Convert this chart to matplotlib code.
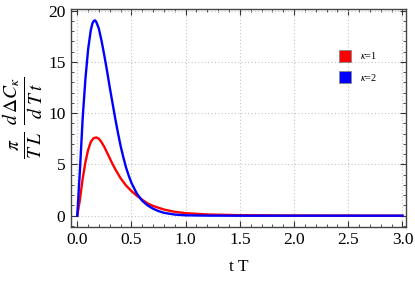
import matplotlib
matplotlib.use("Agg")
import matplotlib.pyplot as plt
from matplotlib.lines import Line2D
from matplotlib.ticker import MultipleLocator

plt.rcParams['font.family'] = ['Liberation Serif', 'DejaVu Serif']
plt.rcParams['mathtext.fontset'] = 'stix'

# data
t_k2 = [0, 0.025, 0.05, 0.075, 0.1, 0.125, 0.14, 0.15, 0.163, 0.175, 0.19, 0.2, 0.225, 0.25,
        0.275, 0.3, 0.325, 0.35, 0.375, 0.4, 0.425, 0.45, 0.475, 0.5, 0.55, 0.6,
        0.65, 0.7, 0.75, 0.8, 0.9, 1.0, 1.2, 1.5, 2.0, 3.0]
y_k2 = [0, 4.5, 9.5, 13.3, 16.2, 18.1, 18.75, 18.95, 19.05, 18.9, 18.5, 18.2, 17.0, 15.6,
        14.1, 12.5, 11.0, 9.5, 8.1, 6.8, 5.7, 4.7, 3.9, 3.2, 2.15, 1.45,
        1.0, 0.68, 0.45, 0.28, 0.11, 0.04, 0.01, 0.0, 0.0, 0.0]

t_k1 = [0, 0.025, 0.05, 0.075, 0.1, 0.125, 0.15, 0.175, 0.2, 0.225, 0.25, 0.275,
        0.3, 0.325, 0.35, 0.375, 0.4, 0.45, 0.5, 0.55, 0.6, 0.65, 0.7, 0.8, 0.9,
        1.0, 1.2, 1.5, 2.0, 2.5, 3.0]
y_k1 = [0, 1.6, 3.6, 5.2, 6.4, 7.2, 7.55, 7.63, 7.5, 7.15, 6.7, 6.15,
        5.6, 5.05, 4.55, 4.1, 3.65, 2.95, 2.4, 1.95, 1.55, 1.2, 0.95, 0.6, 0.38,
        0.25, 0.12, 0.05, 0.02, 0.01, 0.0]

labels = [r'$\kappa$=1', r'$\kappa$=2']
colors = ['#ff0000', '#0000ff']

fig = plt.figure(figsize=(4.15, 2.84), dpi=100)
ax = fig.add_axes([0.171, 0.2018, 0.8066, 0.7665])

ax.plot(t_k1, y_k1, color=colors[0], lw=1.7, solid_joinstyle='round', zorder=3)
ax.plot(t_k2, y_k2, color=colors[1], lw=1.7, solid_joinstyle='round', zorder=4)

ax.set_xlim(-0.058, 3.03)
ax.set_ylim(-1.07, 20.15)

ax.xaxis.set_major_locator(MultipleLocator(0.5))
ax.xaxis.set_minor_locator(MultipleLocator(0.1))
ax.yaxis.set_major_locator(MultipleLocator(5))
ax.yaxis.set_minor_locator(MultipleLocator(1))
ax.xaxis.set_major_formatter(matplotlib.ticker.FormatStrFormatter('%.1f'))

ax.tick_params(which='both', direction='in', top=True, right=True,
               labeltop=False, labelright=False, labelsize=12.5, colors='#333333',
               labelcolor='black')
ax.tick_params(which='major', length=4, width=0.8, pad=4)
ax.tick_params(which='minor', length=2, width=0.6)

for s in ax.spines.values():
    s.set_color('#444444')
    s.set_linewidth(1.0)

ax.grid(True, which='major', color='#c4c4c4', linestyle=(0, (1, 2)), lw=0.8, zorder=0)

ax.set_xlabel('t T', fontsize=12.5, labelpad=8)
ax.set_ylabel(r'$\frac{\pi}{T\;L}\;\frac{d\,\Delta C_{\kappa}}{d\;T\;t}$', fontsize=20, labelpad=2)

handles = [Line2D([], [], linestyle='none', marker='s', markersize=8,
                  markerfacecolor=c, markeredgecolor='#888888', markeredgewidth=0.6)
           for c in colors]
leg = ax.legend(handles, labels, loc='upper left', bbox_to_anchor=(0.795, 0.83),
                frameon=False, fontsize=7.5, handlelength=0.8, handletextpad=1.0,
                labelspacing=1.0, borderaxespad=0)

fig.savefig('out.png', dpi=100)
